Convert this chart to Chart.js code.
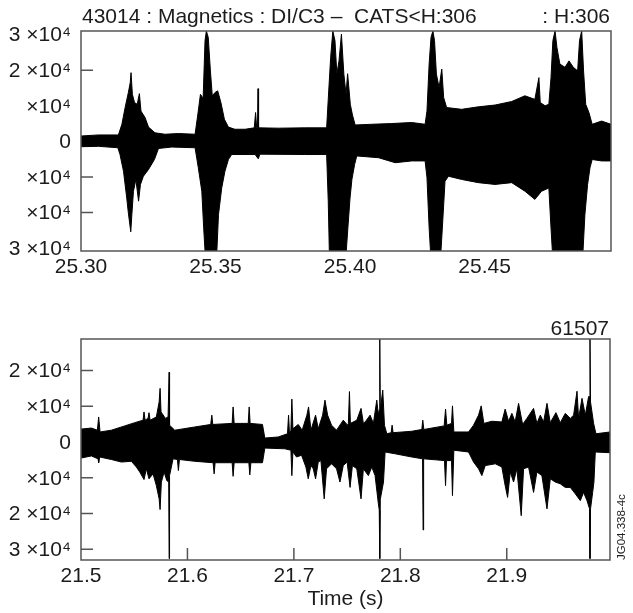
<!DOCTYPE html>
<html>
<head>
<meta charset="utf-8">
<script src="https://cdn.jsdelivr.net/npm/chart.js@4.4.1/dist/chart.umd.min.js"></script>
<style>
  html, body { margin: 0; padding: 0; background: #fff; }
  #wrap { position: relative; width: 633px; height: 613px; }
  canvas { position: absolute; left: 0; }
  #topPanel { top: 0; }
  #bottomPanel { top: 300px; }
</style>
</head>
<body>
<div id="wrap">
  <canvas id="topPanel" width="633" height="300"></canvas>
  <canvas id="bottomPanel" width="633" height="313"></canvas>
</div>
<script>
// Signal envelopes: [time (s), value in units of 10^4]

// pulse 43014, 25.30 - 25.50 s
const topUpper = [
  [25.3000, 0.15], [25.3065, 0.18], [25.3139, 0.18], [25.3152, 0.48], [25.3164, 0.95],
  [25.3176, 1.37], [25.3183, 1.65], [25.3186, 1.93], [25.3191, 1.32], [25.3199, 1.09],
  [25.3209, 1.04], [25.3217, 1.34], [25.3223, 0.85], [25.3238, 0.67], [25.3251, 0.40],
  [25.3275, 0.24], [25.3312, 0.20], [25.3362, 0.22], [25.3424, 0.20], [25.3434, 0.74],
  [25.3444, 1.32], [25.3454, 1.21], [25.3461, 2.83], [25.3466, 3.10], [25.3473, 2.92],
  [25.3481, 1.98], [25.3488, 1.28], [25.3498, 1.37], [25.3508, 1.42], [25.3520, 1.09],
  [25.3533, 0.62], [25.3548, 0.40], [25.3572, 0.34], [25.3610, 0.34], [25.3644, 0.38],
  [25.3649, 0.81], [25.3653, 0.38], [25.3656, 0.38], [25.3658, 1.48], [25.3660, 0.38],
  [25.3733, 0.37], [25.3832, 0.38], [25.3913, 0.38], [25.3919, 1.18], [25.3928, 2.36],
  [25.3936, 3.10], [25.3944, 2.83], [25.3951, 1.89], [25.3959, 2.26], [25.3968, 3.01],
  [25.3977, 1.89], [25.3985, 1.32], [25.3991, 1.90], [25.4001, 1.04], [25.4009, 0.74],
  [25.4019, 0.46], [25.4081, 0.48], [25.4155, 0.50], [25.4229, 0.53], [25.4279, 0.48],
  [25.4286, 0.85], [25.4294, 2.17], [25.4301, 2.92], [25.4308, 3.10], [25.4314, 2.83],
  [25.4321, 1.89], [25.4331, 1.51], [25.4341, 2.03], [25.4348, 1.23], [25.4359, 0.95],
  [25.4415, 0.90], [25.4477, 0.97], [25.4539, 1.02], [25.4601, 1.12], [25.4650, 1.28],
  [25.4687, 1.18], [25.4702, 1.79], [25.4707, 1.09], [25.4725, 1.00], [25.4739, 1.04],
  [25.4747, 1.79], [25.4754, 2.83], [25.4762, 3.10], [25.4769, 2.64], [25.4780, 2.17],
  [25.4799, 2.08], [25.4814, 2.26], [25.4830, 2.08], [25.4846, 1.98], [25.4853, 2.83],
  [25.4861, 3.10], [25.4868, 1.98], [25.4876, 1.04], [25.4888, 0.81], [25.4900, 0.48],
  [25.4935, 0.57], [25.4970, 0.48]
];
const topLower = [
  [25.3000, -0.15], [25.3065, -0.14], [25.3137, -0.18], [25.3145, -0.37], [25.3158, -0.84],
  [25.3170, -1.59], [25.3176, -2.01], [25.3185, -2.54], [25.3189, -2.06], [25.3195, -1.40],
  [25.3204, -1.07], [25.3214, -1.68], [25.3221, -1.21], [25.3232, -0.98], [25.3251, -0.79],
  [25.3273, -0.51], [25.3288, -0.20], [25.3337, -0.16], [25.3424, -0.18], [25.3436, -0.74],
  [25.3449, -1.40], [25.3456, -2.43], [25.3461, -3.08], [25.3505, -3.08], [25.3511, -2.06],
  [25.3523, -1.31], [25.3535, -0.84], [25.3548, -0.51], [25.3560, -0.37], [25.3647, -0.37],
  [25.3659, -0.49], [25.3665, -0.36], [25.3832, -0.37], [25.3913, -0.37], [25.3919, -1.68],
  [25.3923, -3.08], [25.3986, -3.08], [25.3992, -2.43], [25.4000, -1.59], [25.4007, -1.07],
  [25.4017, -0.65], [25.4025, -0.41], [25.4106, -0.46], [25.4168, -0.60], [25.4229, -0.55],
  [25.4279, -0.55], [25.4286, -1.02], [25.4294, -2.43], [25.4299, -3.08], [25.4338, -3.08],
  [25.4346, -2.06], [25.4353, -1.12], [25.4366, -0.98], [25.4415, -1.07], [25.4477, -1.16],
  [25.4539, -1.21], [25.4601, -1.16], [25.4650, -1.40], [25.4687, -1.63], [25.4712, -1.40],
  [25.4739, -1.31], [25.4747, -2.43], [25.4752, -3.08], [25.4866, -3.08], [25.4873, -2.06],
  [25.4883, -1.21], [25.4892, -0.74], [25.4900, -0.51], [25.4935, -0.55], [25.4970, -0.55]
];

// pulse 61507, 21.5 - 22.0 s
const bottomUpper = [
  [21.5000, 0.36], [21.5097, 0.39], [21.5154, 0.33], [21.5166, 0.70], [21.5179, 0.28],
  [21.5285, 0.33], [21.5411, 0.45], [21.5505, 0.54], [21.5583, 0.61], [21.5592, 0.84],
  [21.5602, 0.61], [21.5630, 0.66], [21.5639, 0.82], [21.5649, 0.61], [21.5708, 0.70],
  [21.5734, 1.12], [21.5743, 1.50], [21.5752, 0.84], [21.5793, 0.66], [21.5818, 0.70],
  [21.5824, 0.70], [21.5828, 1.95], [21.5832, 0.47], [21.5881, 0.33], [21.6069, 0.42],
  [21.6219, 0.49], [21.6229, 0.75], [21.6238, 0.49], [21.6420, 0.52], [21.6429, 0.98],
  [21.6439, 0.52], [21.6571, 0.52], [21.6580, 0.98], [21.6589, 0.52], [21.6705, 0.49],
  [21.6727, 0.11], [21.6853, 0.14], [21.6940, 0.23], [21.6950, 0.75], [21.6959, 0.23],
  [21.6972, 0.33], [21.6981, 1.20], [21.6991, 0.37], [21.7041, 0.49], [21.7078, 0.33],
  [21.7122, 0.75], [21.7138, 0.98], [21.7160, 0.33], [21.7204, 0.75], [21.7229, 0.37],
  [21.7270, 0.75], [21.7292, 1.17], [21.7317, 0.75], [21.7354, 0.47], [21.7401, 0.33],
  [21.7464, 0.61], [21.7505, 0.47], [21.7512, 0.52], [21.7522, 1.41], [21.7531, 0.52],
  [21.7591, 0.61], [21.7631, 0.94], [21.7653, 0.52], [21.7675, 0.58], [21.7716, 0.75],
  [21.7747, 0.52], [21.7779, 1.17], [21.7794, 0.75], [21.7802, 0.90], [21.7807, 2.88],
  [21.7812, 0.90], [21.7835, 1.45], [21.7851, 0.47], [21.7873, 0.23], [21.7914, 0.26],
  [21.7923, 0.47], [21.7932, 0.26], [21.8108, 0.30], [21.8202, 0.35], [21.8211, 0.61],
  [21.8221, 0.35], [21.8412, 0.45], [21.8425, 0.92], [21.8437, 0.47], [21.8481, 0.52],
  [21.8490, 1.01], [21.8503, 0.28], [21.8641, 0.28], [21.8688, 0.47], [21.8735, 0.75],
  [21.8760, 1.01], [21.8785, 0.52], [21.8860, 0.58], [21.8954, 0.56], [21.8985, 0.92],
  [21.9017, 0.58], [21.9048, 0.80], [21.9079, 0.56], [21.9111, 1.08], [21.9149, 0.49],
  [21.9189, 0.66], [21.9252, 0.94], [21.9283, 0.52], [21.9315, 0.75], [21.9346, 0.56],
  [21.9378, 1.08], [21.9409, 0.54], [21.9462, 0.82], [21.9503, 0.54], [21.9550, 0.80],
  [21.9597, 0.66], [21.9628, 0.75], [21.9660, 1.42], [21.9675, 0.66], [21.9707, 1.22],
  [21.9738, 0.75], [21.9769, 1.27], [21.9778, 1.27], [21.9782, 2.88], [21.9787, 1.12],
  [21.9816, 0.52], [21.9838, 0.23], [21.9970, 0.28]
];
const bottomLower = [
  [21.5000, -0.45], [21.5097, -0.39], [21.5160, -0.47], [21.5166, -0.58], [21.5176, -0.42],
  [21.5285, -0.49], [21.5379, -0.56], [21.5473, -0.54], [21.5520, -0.70], [21.5552, -0.84],
  [21.5592, -1.05], [21.5614, -0.75], [21.5639, -1.03], [21.5677, -0.89], [21.5708, -1.22],
  [21.5734, -1.59], [21.5743, -1.89], [21.5755, -1.12], [21.5781, -0.84], [21.5806, -1.08],
  [21.5824, -1.12], [21.5828, -3.26], [21.5832, -0.94], [21.5865, -0.47], [21.5906, -0.49],
  [21.5915, -0.80], [21.5925, -0.49], [21.6069, -0.54], [21.6241, -0.58], [21.6251, -0.89],
  [21.6260, -0.58], [21.6420, -0.58], [21.6429, -0.96], [21.6439, -0.58], [21.6577, -0.58],
  [21.6586, -0.92], [21.6596, -0.58], [21.6705, -0.58], [21.6727, -0.17], [21.6915, -0.19],
  [21.6972, -0.23], [21.6981, -0.94], [21.6991, -0.28], [21.7025, -0.42], [21.7072, -0.37],
  [21.7113, -0.70], [21.7135, -1.03], [21.7160, -0.66], [21.7182, -0.75], [21.7204, -1.03],
  [21.7229, -0.56], [21.7254, -0.52], [21.7285, -1.59], [21.7307, -0.75], [21.7354, -0.61],
  [21.7401, -0.75], [21.7433, -1.12], [21.7464, -0.66], [21.7500, -0.56], [21.7528, -1.27],
  [21.7550, -0.66], [21.7591, -0.75], [21.7631, -1.59], [21.7653, -0.75], [21.7700, -0.94],
  [21.7732, -0.70], [21.7763, -0.94], [21.7794, -1.73], [21.7802, -1.90], [21.7807, -3.26],
  [21.7812, -1.60], [21.7842, -1.12], [21.7857, -0.28], [21.7951, -0.33], [21.8108, -0.42],
  [21.8209, -0.47], [21.8214, -2.46], [21.8219, -0.47], [21.8415, -0.52], [21.8425, -1.22],
  [21.8434, -0.52], [21.8481, -0.52], [21.8490, -1.50], [21.8503, -0.23], [21.8641, -0.28],
  [21.8688, -0.56], [21.8735, -0.75], [21.8766, -0.94], [21.8798, -0.66], [21.8892, -0.61],
  [21.8954, -0.70], [21.8985, -1.22], [21.9008, -1.55], [21.9033, -0.84], [21.9064, -1.12],
  [21.9095, -0.75], [21.9136, -2.06], [21.9158, -0.75], [21.9205, -0.70], [21.9252, -1.41],
  [21.9283, -0.84], [21.9330, -0.94], [21.9378, -1.87], [21.9409, -1.03], [21.9456, -1.12],
  [21.9503, -1.17], [21.9550, -1.27], [21.9597, -1.27], [21.9644, -1.45], [21.9691, -1.64],
  [21.9722, -1.41], [21.9754, -1.64], [21.9778, -1.87], [21.9782, -3.26], [21.9787, -1.87],
  [21.9807, -1.41], [21.9819, -1.12], [21.9832, -0.28], [21.9970, -0.30]
];

// axes
const topXTicks = [25.30, 25.35, 25.40, 25.45];
const topXLabels = ['25.30', '25.35', '25.40', '25.45'];
const topYTicks = [3, 2, 1, 0, -1, -2, -3];
const topYLabels = ['3 ×10⁴', '2 ×10⁴', '×10⁴', '0', '×10⁴', '×10⁴', '3 ×10⁴'];
const topYMarks = [2, -1, -2];

const bottomXTicks = [21.5, 21.6, 21.7, 21.8, 21.9];
const bottomXLabels = ['21.5', '21.6', '21.7', '21.8', '21.9'];
const bottomXMarks = [21.6, 21.7, 21.8, 21.9];
const bottomYTicks = [2, 1, 0, -1, -2, -3];
const bottomYLabels = ['2 ×10⁴', '×10⁴', '0', '×10⁴', '2 ×10⁴', '3 ×10⁴'];
const bottomYMarks = [2, 1, -1, -2, -3];

const FONT = "'Liberation Sans', Arial, Helvetica, sans-serif";
const INK = '#1c1c1c';
const FRAME = '#555';

// frame, inward tick marks and the loose labels around each panel
const panelDecor = {
  id: 'panelDecor',
  afterDatasetsDraw(chart, args, opts) {
    const { ctx, chartArea: a, scales } = chart;
    ctx.save();
    ctx.strokeStyle = FRAME;
    ctx.lineWidth = 1.5;
    ctx.strokeRect(a.left, a.top, a.right - a.left, a.bottom - a.top);
    ctx.beginPath();
    (opts.marksY || []).forEach((v) => {
      const y = scales.y.getPixelForValue(v);
      ctx.moveTo(a.left, y);
      ctx.lineTo(a.left + 12, y);
    });
    (opts.marksX || []).forEach((v) => {
      const x = scales.x.getPixelForValue(v);
      ctx.moveTo(x, a.bottom);
      ctx.lineTo(x, a.bottom - 12);
    });
    ctx.stroke();

    ctx.fillStyle = INK;
    ctx.font = '21px ' + FONT;
    ctx.textBaseline = 'alphabetic';
    if (opts.left) {
      ctx.textAlign = 'left';
      ctx.fillText(opts.left, a.left + 1, a.top - opts.textRise);
    }
    if (opts.right) {
      ctx.textAlign = 'right';
      ctx.fillText(opts.right, a.right - 1, a.top - opts.textRise);
    }
    if (opts.side) {
      ctx.translate(a.right + 12, a.bottom);
      ctx.rotate(-Math.PI / 2);
      ctx.font = '11.5px ' + FONT;
      ctx.textAlign = 'left';
      ctx.textBaseline = 'middle';
      ctx.fillText(opts.side, 0, 0);
    }
    ctx.restore();
  }
};

// each envelope is filled a little past zero so the two halves overlap without a seam
function trace(points, fillTo) {
  return {
    data: points.map(([x, y]) => ({ x, y })),
    borderColor: '#000',
    backgroundColor: '#000',
    borderWidth: 1,
    pointRadius: 0,
    tension: 0,
    fill: { value: fillTo }
  };
}

function makePanel(el, p) {
  return new Chart(el, {
    type: 'line',
    data: { datasets: [trace(p.upper, -0.1), trace(p.lower, 0.1)] },
    plugins: [panelDecor],
    options: {
      responsive: false,
      animation: false,
      devicePixelRatio: 1,
      layout: { padding: p.padding },
      plugins: {
        legend: { display: false },
        tooltip: { enabled: false },
        panelDecor: p.decor
      },
      scales: {
        x: {
          type: 'linear',
          min: p.xMin,
          max: p.xMax,
          grid: { display: false },
          border: { display: false },
          afterBuildTicks: (s) => { s.ticks = p.xTicks.map((value) => ({ value })); },
          afterFit: (s) => { s.height = p.xAxisHeight; },
          ticks: {
            autoSkip: false,
            maxRotation: 0,
            padding: p.xPad,
            color: INK,
            font: { family: FONT, size: 21 },
            callback: (v, i) => p.xLabels[i]
          },
          title: p.xTitle
            ? { display: true, text: p.xTitle, color: INK, font: { family: FONT, size: 21 }, padding: { top: 0, bottom: 1 } }
            : { display: false }
        },
        y: {
          min: p.yMin,
          max: p.yMax,
          grid: { display: false },
          border: { display: false },
          afterBuildTicks: (s) => { s.ticks = p.yTicks.map((value) => ({ value })); },
          afterFit: (s) => { s.width = 81; },
          ticks: {
            autoSkip: false,
            padding: 2,
            labelOffset: 1,
            color: INK,
            font: { family: FONT, size: 21 },
            callback: (v, i) => p.yLabels[i]
          }
        }
      }
    }
  });
}

makePanel(document.getElementById('topPanel'), {
  upper: topUpper,
  lower: topLower,
  xMin: 25.30, xMax: 25.497,
  yMin: -3.08, yMax: 3.10,
  xTicks: topXTicks, xLabels: topXLabels,
  yTicks: topYTicks, yLabels: topYLabels,
  xAxisHeight: 49, xPad: -4,
  padding: { top: 31, right: 22, left: 0, bottom: 0 },
  decor: {
    marksY: topYMarks,
    marksX: [],
    left: '43014 : Magnetics : DI/C3 –  CATS<H:306',
    right: ': H:306',
    textRise: 8
  }
});

makePanel(document.getElementById('bottomPanel'), {
  upper: bottomUpper,
  lower: bottomLower,
  xMin: 21.5, xMax: 21.997,
  yMin: -3.30, yMax: 2.88,
  xTicks: bottomXTicks, xLabels: bottomXLabels,
  yTicks: bottomYTicks, yLabels: bottomYLabels,
  xAxisHeight: 53, xPad: -4,
  xTitle: 'Time (s)',
  padding: { top: 39, right: 23, left: 0, bottom: 0 },
  decor: {
    marksY: bottomYMarks,
    marksX: bottomXMarks,
    right: '61507',
    side: 'JG04.338-4c',
    textRise: 4
  }
});
</script>
</body>
</html>
